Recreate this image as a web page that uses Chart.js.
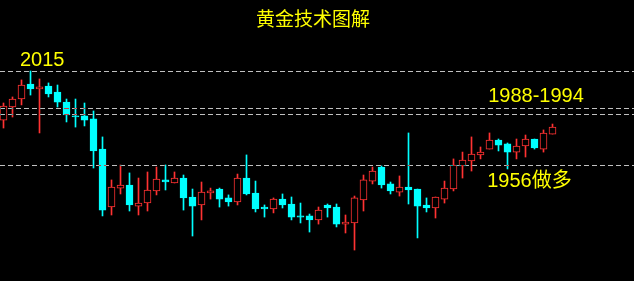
<!DOCTYPE html>
<html><head><meta charset="utf-8">
<script src="https://cdn.jsdelivr.net/npm/chart.js@4.4.1/dist/chart.umd.min.js"></script>
<style>html,body{margin:0;padding:0;background:#000;overflow:hidden}#wrap{width:634px;height:281px;position:relative}</style>
</head><body><div id="wrap"><canvas id="c" width="634" height="281"></canvas></div>
<script>
// OHLC values (price units)
const openP  = [1984.2,1992.4,1997.4,2006.8,2003.7,2005.6,2001.8,1995.5,1986.8,1986.8,1984.9,1966.0,1929.6,1941.5,1943.4,1930.2,1932.1,1939.7,1946.6,1944.7,1947.8,1935.9,1930.9,1938.4,1940.9,1935.3,1932.8,1947.8,1938.4,1929.6,1928.4,1934.6,1931.5,1924.0,1924.0,1921.5,1930.9,1929.6,1918.9,1919.6,1934.0,1945.9,1954.7,1944.1,1939.0,1942.2,1940.9,1930.9,1929.0,1934.6,1940.9,1955.4,1958.5,1962.3,1966.0,1971.7,1969.2,1964.1,1967.9,1972.3,1966.0,1975.4];
const highP  = [1994.9,1998.7,2009.4,2015.0,2010.0,2007.5,2006.2,1997.4,1997.4,1994.9,1989.9,1973.6,1946.6,1956.0,1951.0,1947.8,1951.6,1954.7,1956.0,1951.6,1949.7,1940.9,1945.3,1941.5,1941.5,1937.2,1950.3,1962.3,1945.9,1930.9,1935.3,1937.8,1935.9,1932.1,1925.2,1929.6,1931.5,1931.5,1924.6,1936.5,1949.7,1954.7,1955.4,1945.3,1949.1,1976.1,1940.9,1935.3,1935.9,1945.9,1959.8,1964.1,1973.6,1967.3,1976.1,1972.3,1969.8,1972.3,1974.8,1972.3,1978.0,1981.7];
const lowP   = [1979.2,1986.1,1993.7,1999.9,1976.1,1998.7,1992.4,1983.0,1979.8,1980.5,1954.1,1924.0,1924.6,1937.8,1927.1,1924.6,1927.1,1937.2,1940.3,1944.7,1927.7,1911.4,1921.5,1934.6,1929.6,1930.2,1930.9,1937.2,1926.5,1923.3,1925.9,1929.0,1921.5,1919.6,1913.9,1918.9,1923.3,1917.1,1913.3,1902.6,1927.1,1944.1,1941.5,1937.8,1936.5,1931.5,1910.2,1926.5,1922.7,1932.1,1939.7,1947.8,1952.2,1959.8,1966.0,1964.8,1953.5,1959.8,1961.0,1966.0,1964.1,1975.4];
const closeP = [1993.0,1997.4,2006.2,2003.7,2005.0,2000.6,1995.5,1987.4,1986.1,1984.2,1964.8,1927.7,1942.2,1943.4,1930.9,1932.1,1940.3,1947.2,1945.3,1947.8,1935.3,1930.2,1939.0,1939.7,1934.6,1932.8,1947.8,1937.8,1928.4,1928.4,1934.6,1930.9,1923.3,1923.3,1921.5,1927.7,1929.0,1918.9,1920.2,1935.3,1946.6,1952.2,1943.4,1939.7,1942.2,1940.3,1930.2,1929.0,1935.9,1941.5,1956.0,1959.1,1962.9,1964.1,1971.7,1968.5,1964.1,1967.9,1972.3,1966.7,1976.1,1979.8];
const levelValues = [2015, 1992, 1988, 1956];
const labelTexts = ['2015', '1988-1994', '1956做多'];
const labelLevels = [2015, 1992, 1956];
const labelIndex = [1.83, 53.85, 53.75];
const titleText = '黄金技术图解';

const UP = '#ff3232', DOWN = '#00ffff';
const idx = openP.map((_, i) => i);
const isUp = idx.map(i => closeP[i] >= openP[i]);
const colorOf = idx.map(i => isUp[i] ? UP : DOWN);

const wickData = idx.map(i => ({x: i, y: [lowP[i], highP[i]]}));
const bodyData = idx.map(i => ({x: i, y: [openP[i], closeP[i]]}));

const levelLabelOffsets = [-5, -6, 22];

const overlay = {
  id: 'overlay',
  afterDatasetsDraw(chart) {
    const ctx = chart.ctx, ys = chart.scales.y, xs = chart.scales.x;
    const W = chart.width;
    ctx.save();
    ctx.globalCompositeOperation = 'difference';
    ctx.strokeStyle = 'rgb(192,192,192)';
    ctx.lineWidth = 1;
    ctx.setLineDash([5, 3]);
    levelValues.forEach(v => {
      const py = Math.round(ys.getPixelForValue(v)) + 0.5;
      ctx.beginPath(); ctx.moveTo(0, py); ctx.lineTo(W, py); ctx.stroke();
    });
    ctx.restore();
    ctx.save();
    ctx.fillStyle = '#ffff00';
    ctx.textBaseline = 'alphabetic';
    ctx.textAlign = 'left';
    ctx.font = '20px "Liberation Sans", "Noto Sans CJK SC", sans-serif';
    labelTexts.forEach((t, k) => {
      const px = xs.getPixelForValue(labelIndex[k]);
      const py = Math.round(ys.getPixelForValue(labelLevels[k])) + levelLabelOffsets[k];
      ctx.fillText(t, px, py);
    });
    ctx.font = '19px "Noto Sans CJK SC", sans-serif';
    ctx.textAlign = 'center';
    ctx.textBaseline = 'middle';
    ctx.fillText(titleText, 313, 19);
    ctx.restore();
  }
};

const bg = {
  id: 'bg',
  beforeDraw(chart) {
    const ctx = chart.ctx; ctx.save(); ctx.fillStyle = '#000'; ctx.fillRect(0, 0, chart.width, chart.height); ctx.restore();
  }
};

const xMin = -3.5 / 9;
new Chart(document.getElementById('c'), {
  type: 'bar',
  data: {
    datasets: [
      { label: 'body', data: bodyData, order: 0, grouped: false, barThickness: 7,
        backgroundColor: idx.map(i => isUp[i] ? '#000000' : DOWN),
        borderColor: colorOf, borderWidth: 1, borderSkipped: false },
      { label: 'wick', data: wickData, order: 1, grouped: false, barThickness: 1,
        backgroundColor: colorOf, borderWidth: 0 }
    ]
  },
  options: {
    responsive: false, animation: false, maintainAspectRatio: false,
    layout: { padding: 0 },
    plugins: { legend: { display: false }, tooltip: { enabled: false }, title: { display: false } },
    scales: {
      x: { type: 'linear', min: xMin, max: xMin + 634 / 9, display: false, offset: false, grid: { display: false } },
      y: { min: 1883.16, max: 2059.57, display: false, grid: { display: false } }
    }
  },
  plugins: [bg, overlay]
});
</script>
</body></html>
